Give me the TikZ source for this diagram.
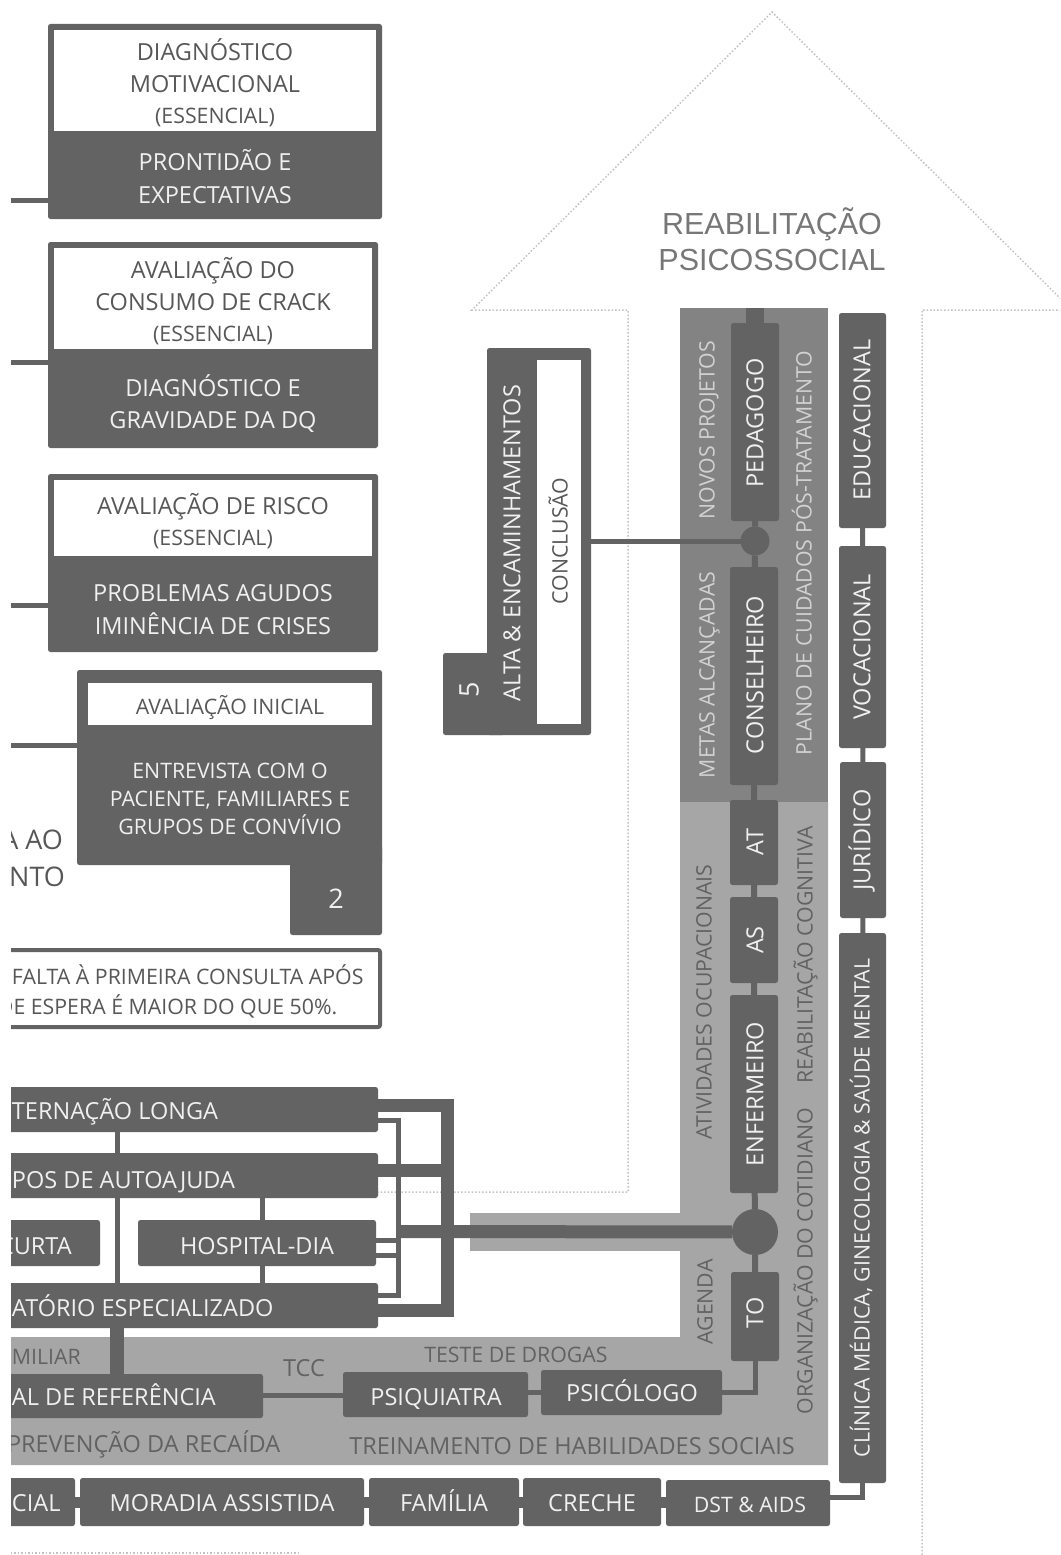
\documentclass[tikz,border=0pt]{standalone}
\usepackage{fontspec}
\setmainfont{Open Sans}
\newfontfamily\headfont{Liberation Sans}
\usetikzlibrary{calc}

\definecolor{boxgray}{HTML}{636363}
\definecolor{midband}{HTML}{838383}
\definecolor{lowband}{HTML}{A6A6A6}
\definecolor{inkgray}{HTML}{575757}
\definecolor{boxink}{HTML}{F0F0F0}
\definecolor{midink}{HTML}{D2D2D2}
\definecolor{lowink}{HTML}{626262}
\definecolor{dotgray}{HTML}{C2C2C2}
\definecolor{headink}{HTML}{777777}

% filled rectangle node given by its two corners
\newcommand\blockat[6]{%
  \node[#1, minimum width={(#5)-(#3)}, minimum height={(#6)-(#4)}]
    (#2) at ({((#3)+(#5))/2},{((#4)+(#6))/2}) {};}

\tikzset{
  block/.style={fill=boxgray, draw=none, rounded corners=2.5pt, inner sep=0pt, outer sep=0pt},
  sheet/.style={fill=white, draw=none, inner sep=0pt, outer sep=0pt},
  txt/.style={inner sep=0pt, outer sep=0pt, text depth=0pt},
  szL/.style={txt, font=\fontsize{27}{32}\selectfont, text height=19.3pt},
  szM/.style={txt, font=\fontsize{23.5}{28}\selectfont, text height=16.8pt},
  szS/.style={txt, font=\fontsize{21.3}{25}\selectfont, text height=15.2pt},
  head/.style={inner sep=0pt, text depth=0pt, text height=21.8pt, text=headink,
    font=\headfont\fontsize{30.5}{36}\selectfont},
  onbox/.style={text=boxink},
  onwhite/.style={text=inkgray},
  onmid/.style={text=midink},
  onlow/.style={text=lowink},
  up/.style={rotate=90},
  hub/.style={circle, fill=boxgray, inner sep=0pt, outer sep=0pt},
  wire/.style={draw=boxgray, line width=5pt},
  thickwire/.style={draw=boxgray, line width=13pt, line join=miter},
  outline/.style={draw=dotgray, line width=1.5pt, dotted},
}

\begin{document}
\begin{tikzpicture}[x=1pt,y=-1pt]
\useasboundingbox (0,0) rectangle (1060,1555);
\begin{scope}
\clip (11,0) rectangle (1060,1555);

% ---------- big upward arrow (dotted outline) ----------
\draw[outline] (300,1192) -- (628,1192) -- (628,310) -- (472,310) -- (772,12)
  -- (1072,310) -- (922,310) -- (922,1560);
\draw[outline] (0,1553) -- (300,1553);

\node[head] (headA) at (772,224) {REABILITAÇÃO};
\node[head] (headB) at (772,260) {PSICOSSOCIAL};

% ---------- shaded bands ----------
\fill[midband] (680,308) rectangle (828,802);
\fill[lowband] (680,802) -- (828,802) -- (828,1465) -- (0,1465) -- (0,1337)
  -- (680,1337) -- cycle;
\fill[lowband] (470,1213) rectangle (680,1251);

% ---------- assessment boxes ----------
\blockat{block}{diagbox}{48}{24}{382}{219}
\blockat{sheet}{diagtop}{54}{30}{376}{131}
\blockat{block}{crackbox}{48}{242}{378}{448}
\blockat{sheet}{cracktop}{54}{248}{372}{349}
\blockat{block}{riskbox}{48}{474}{378}{652}
\blockat{sheet}{risktop}{54}{480}{372}{556}
\blockat{block}{initbox}{77}{670}{382}{865}
\blockat{block}{inittab}{290}{845}{382}{935}
\blockat{sheet}{inittop}{88}{683}{372}{725}

\node[draw=boxgray, line width=4pt, fill=white, rounded corners=2pt, inner sep=0pt,
  minimum width=410, minimum height=77] (note) at (175,988.5) {};

% ---------- treatment settings ----------
\blockat{block}{longrow}{-20}{1087}{378}{1132}
\blockat{block}{autorow}{-20}{1153}{378}{1198}
\blockat{block}{shortbox}{-20}{1220}{100}{1266}
\blockat{block}{daybox}{138}{1220}{376}{1266}
\blockat{block}{ambrow}{-20}{1283}{378}{1328}
\blockat{block}{refbox}{-20}{1374}{263}{1418}
\blockat{block}{psiq}{343}{1372}{528}{1417}
\blockat{block}{psic}{541}{1370}{722}{1415}

% ---------- social network row ----------
\blockat{block}{socialbox}{-20}{1478}{75}{1526}
\blockat{block}{housebox}{80}{1478}{364}{1526}
\blockat{block}{familybox}{369}{1478}{519}{1526}
\blockat{block}{daycarebox}{523}{1478}{661}{1526}
\blockat{block}{dstbox}{666}{1480}{830}{1526}

% ---------- discharge box ----------
\blockat{block}{altabox}{487}{348}{591}{735}
\blockat{block}{altatab}{443}{653}{505}{735}
\blockat{sheet}{altasheet}{537}{360}{581}{724}

% ---------- team column ----------
\blockat{block}{pedagogo}{731}{323}{779}{521}
\node[hub, minimum size=29] (hubone) at (755,541) {};
\blockat{block}{conselheiro}{730}{567}{778}{785}
\blockat{block}{atbox}{730}{800}{778}{885}
\blockat{block}{asbox}{730}{897}{778}{983}
\blockat{block}{enfermeiro}{730}{995}{778}{1193}
\node[hub, minimum size=46] (hubtwo) at (755,1232) {};
\blockat{block}{tobox}{731}{1272}{779}{1361}

% ---------- support column ----------
\blockat{block}{educ}{839}{313}{886}{528}
\blockat{block}{vocac}{839}{546}{886}{748}
\blockat{block}{jurid}{840}{762}{886}{918}
\blockat{block}{clinica}{839}{933}{886}{1483}

% ---------- connectors ----------
\coordinate (feedA) at (0,200);
\coordinate (feedB) at (0,362);
\coordinate (feedC) at (0,605);
\coordinate (feedD) at (0,745);
\draw[wire] (feedA) -- (feedA -| diagbox.west);
\draw[wire] (feedB) -- (feedB -| crackbox.west);
\draw[wire] (feedC) -- (feedC -| riskbox.west);
\draw[wire] (feedD) -- (feedD -| initbox.west);

\draw[wire] (altabox.east |- hubone) -- (hubone);
\draw[boxgray, line width=18pt] (pedagogo.north) -- (pedagogo.north |- 0,308);
\draw[wire, line width=6pt] (pedagogo) -- (hubone) -- (conselheiro) -- (atbox)
  -- (asbox) -- (enfermeiro) -- (hubtwo) -- (tobox);
\draw[wire] (tobox.south) -- (tobox.south |- psic.east) -- (psic.east);
\draw[wire] (psic.west) -- (psiq.east |- psic.west);
\draw[wire] (psiq.west |- 0,1395) -- (refbox.east |- 0,1395);

\draw[wire] (educ) -- (vocac) -- (jurid) -- (clinica);
\draw[wire] (dstbox.east |- 0,1497) -| (clinica.south);
\draw[boxgray, line width=11pt] (socialbox.east |- 0,1502) -- (dstbox.west |- 0,1502);

\draw[wire] (longrow.south -| 117.5,0) -- (autorow.north -| 117.5,0);
\draw[wire] (autorow.south -| 117.5,0) -- (ambrow.north -| 117.5,0);
\draw[wire] (autorow.south -| 262,0) -- (daybox.north -| 262,0);
\draw[wire] (daybox.south -| 262,0) -- (ambrow.north -| 262,0);
\draw[boxgray, line width=14pt] (ambrow.south -| 117,0) -- (refbox.north -| 117,0);

\draw[thickwire] (longrow.east |- 0,1105) -- (447,1105) -- (447,1310)
  -- (ambrow.east |- 0,1310);
\draw[thickwire] (autorow.east |- 0,1170) -- (447,1170);
\draw[wire, line join=miter] (longrow.east |- 0,1120) -- (398,1120) -- (398,1295)
  -- (ambrow.east |- 0,1295);
\draw[wire] (daybox.east |- 0,1240) -- (398,1240);
\draw[wire] (daybox.east |- 0,1255) -- (398,1255);
\draw[thickwire] (398,1231.5) -- (hubtwo);

% ---------- texts: assessment ----------
\node[szM,onwhite] (tA1) at (215,52) {DIAGNÓSTICO};
\node[szM,onwhite] (tA2) at (215,84) {MOTIVACIONAL};
\node[szS,onwhite] (tA3) at (215,116) {(ESSENCIAL)};
\node[szM,onbox] (tA4) at (215,162) {PRONTIDÃO E};
\node[szM,onbox] (tA5) at (215,195) {EXPECTATIVAS};

\node[szM,onwhite] (tB1) at (213,270) {AVALIAÇÃO DO};
\node[szM,onwhite] (tB2) at (213,302) {CONSUMO DE CRACK};
\node[szS,onwhite] (tB3) at (213,334) {(ESSENCIAL)};
\node[szM,onbox] (tB4) at (213,388) {DIAGNÓSTICO E};
\node[szM,onbox] (tB5) at (213,420) {GRAVIDADE DA DQ};

\node[szM,onwhite] (tC1) at (213,506) {AVALIAÇÃO DE RISCO};
\node[szS,onwhite] (tC2) at (213,538) {(ESSENCIAL)};
\node[szM,onbox] (tC3) at (213,593) {PROBLEMAS AGUDOS};
\node[szM,onbox] (tC4) at (213,626) {IMINÊNCIA DE CRISES};

\node[szS,onwhite] (tD1) at (230,707) {AVALIAÇÃO INICIAL};
\node[szS,onbox] (tD2) at (230,771) {ENTREVISTA COM O};
\node[szS,onbox] (tD3) at (230,799) {PACIENTE, FAMILIARES E};
\node[szS,onbox] (tD4) at (230,827) {GRUPOS DE CONVÍVIO};
\node[szL,onbox] (tD5) at (336,899) {2};

\node[szL,onwhite,anchor=east] (sideA) at (63,840) {A AO};
\node[szL,onwhite,anchor=east] (sideB) at (65,877) {NTO};

\node[szS,onwhite,anchor=west] (noteA) at (12,977) {FALTA À PRIMEIRA CONSULTA APÓS};
\node[szS,onwhite,anchor=west] (noteB) at (-2,1007) {DE ESPERA É MAIOR DO QUE 50\%.};

% ---------- texts: settings ----------
\node[szM,onbox,anchor=west] (rowA) at (12,1111) {TERNAÇÃO LONGA};
\node[szM,onbox,anchor=west] (rowB) at (12,1180) {POS DE AUTOAJUDA};
\node[szM,onbox,anchor=west] (rowC) at (-1,1246) {CURTA};
\node[szM,onbox] (rowD) at (257,1246) {HOSPITAL-DIA};
\node[szM,onbox,anchor=west] (rowE) at (12,1308) {ATÓRIO ESPECIALIZADO};
\node[szS,onlow,anchor=west] (rowF) at (12,1357) {MILIAR};
\node[szM,onbox,anchor=west] (rowG) at (12,1397) {AL DE REFERÊNCIA};
\node[szM,onlow] (tcc) at (304,1368) {TCC};
\node[szS,onlow] (drugs) at (516,1355) {TESTE DE DROGAS};
\node[szM,onbox] (psiqT) at (436,1397) {PSIQUIATRA};
\node[szM,onbox] (psicT) at (632,1393) {PSICÓLOGO};
\node[szM,onlow,anchor=west] (relapse) at (7,1444) {PREVENÇÃO DA RECAÍDA};
\node[szM,onlow] (skills) at (572,1446) {TREINAMENTO DE HABILIDADES SOCIAIS};

\node[szM,onbox,anchor=west] (socT) at (12,1503) {CIAL};
\node[szM,onbox] (houseT) at (222,1503) {MORADIA ASSISTIDA};
\node[szM,onbox] (famT) at (444,1503) {FAMÍLIA};
\node[szM,onbox] (crecheT) at (592,1503) {CRECHE};
\node[szS,onbox] (dstT) at (750,1505) {DST \& AIDS};

% ---------- texts: discharge ----------
\node[szM,onbox,up] (altaT) at (512,543) {ALTA \& ENCAMINHAMENTOS};
\node[szS,onwhite,up] (conclT) at (560,541) {CONCLUSÃO};
\node[szL,onbox,up] (fiveT) at (469,690) {5};

% ---------- texts: team column ----------
\node[szS,onmid,up] (novos) at (707,430) {NOVOS PROJETOS};
\node[szS,onmid,up] (metas) at (707,675) {METAS ALCANÇADAS};
\node[szS,onmid,up] (plano) at (804,553) {PLANO DE CUIDADOS PÓS-TRATAMENTO};
\node[szM,onbox,up] (pedT) at (755,423) {PEDAGOGO};
\node[szM,onbox,up] (conT) at (755,675) {CONSELHEIRO};
\node[szM,onbox,up] (atT) at (755,842) {AT};
\node[szM,onbox,up] (asT) at (755,940) {AS};
\node[szM,onbox,up] (enfT) at (755,1094) {ENFERMEIRO};
\node[szM,onbox,up] (toT) at (755,1313) {TO};
\node[szS,onlow,up] (ativ) at (704,1002) {ATIVIDADES OCUPACIONAIS};
\node[szS,onlow,up] (cogn) at (805,955) {REABILITAÇÃO COGNITIVA};
\node[szS,onlow,up] (cotid) at (805,1261) {ORGANIZAÇÃO DO COTIDIANO};
\node[szS,onlow,up] (agenda) at (705,1302) {AGENDA};

% ---------- texts: support column ----------
\node[szM,onbox,up] (educT) at (862,420) {EDUCACIONAL};
\node[szM,onbox,up] (vocT) at (862,647) {VOCACIONAL};
\node[szM,onbox,up] (jurT) at (862,840) {JURÍDICO};
\node[szS,onbox,up] (cliT) at (862,1208) {CLÍNICA MÉDICA, GINECOLOGIA \& SAÚDE MENTAL};

\end{scope}
\end{tikzpicture}
\end{document}
